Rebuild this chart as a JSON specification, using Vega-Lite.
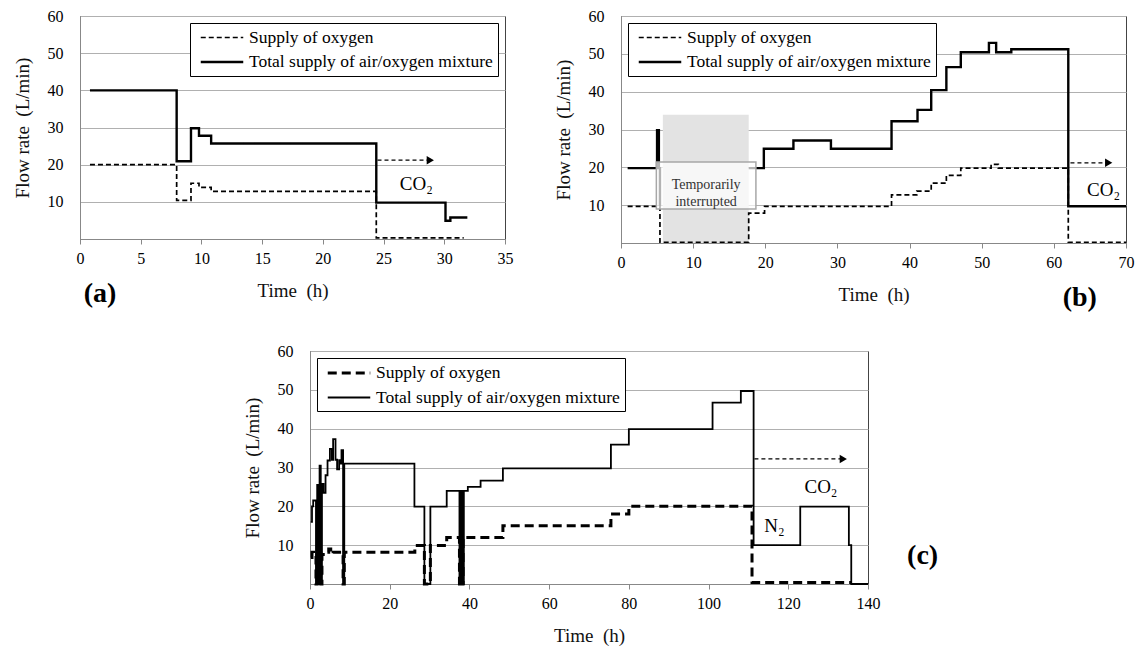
{
  "$schema": "https://vega.github.io/schema/vega-lite/v6.json",
  "padding": {"left": 12, "top": 7, "right": 0, "bottom": 0},
  "background": "white",
  "config": {
    "font": "Liberation Serif",
    "view": {"stroke": "#444", "strokeWidth": 1},
    "style": {"guide-label": {"font": "Liberation Serif"}, "guide-title": {"font": "Liberation Serif"}},
    "axis": {
      "labelFont": "Liberation Serif", "titleFont": "Liberation Serif",
      "labelFontSize": 16, "titleFontSize": 19, "titleFontWeight": "normal",
      "labelColor": "#000", "titleColor": "#111",
      "domainColor": "#888", "tickColor": "#888", "gridColor": "#b0b0b0"
    },
    "axisX": {"grid": false, "tickSize": 5, "labelPadding": 6, "titlePadding": 15, "labelFlush": false},
    "axisY": {"grid": true, "ticks": false, "labelPadding": 17, "titlePadding": 15},
    "legend": {
      "labelFont": "Liberation Serif", "labelFontSize": 17.5, "labelColor": "#000",
      "symbolType": "M-0.5,0H4.5", "symbolStrokeColor": "#000", "symbolFillColor": "transparent", "symbolSize": 289,
      "strokeColor": "#000", "fillColor": "#fff", "padding": 5, "rowPadding": 6,
      "offset": 7, "labelOffset": 34, "labelLimit": 400
    }
  },
  "datasets": {
    "a_lines": [
      {"t": 0.82, "v": 40, "s": "total", "g": "T1"},
      {"t": 7.96, "v": 20.9, "s": "total", "g": "T1"},
      {"t": 9.14, "v": 29.8, "s": "total", "g": "T1"},
      {"t": 9.8, "v": 27.8, "s": "total", "g": "T1"},
      {"t": 10.8, "v": 25.7, "s": "total", "g": "T1"},
      {"t": 24.4, "v": 9.8, "s": "total", "g": "T1"},
      {"t": 30.1, "v": 4.9, "s": "total", "g": "T1"},
      {"t": 30.5, "v": 5.8, "s": "total", "g": "T1"},
      {"t": 31.9, "v": 5.8, "s": "total", "g": "T1"},
      {"t": 0.82, "v": 20, "s": "oxygen", "g": "O1"},
      {"t": 7.96, "v": 10.4, "s": "oxygen", "g": "O1"},
      {"t": 9.14, "v": 15, "s": "oxygen", "g": "O1"},
      {"t": 9.8, "v": 13.9, "s": "oxygen", "g": "O1"},
      {"t": 10.8, "v": 12.8, "s": "oxygen", "g": "O1"},
      {"t": 24.4, "v": 0.3, "s": "oxygen", "g": "O1"},
      {"t": 31.6, "v": 0.3, "s": "oxygen", "g": "O1"}
    ],
    "b_lines": [
      {"t": 0.92, "v": 19.8, "s": "total", "g": "T1"},
      {"t": 5.0, "v": 29.8, "s": "total", "g": "T1"},
      {"t": 5.25, "v": 19.8, "s": "total", "g": "T1"},
      {"t": 5.4, "v": 9.7, "s": "total", "g": "T1"},
      {"t": 17.7, "v": 19.8, "s": "total", "g": "T2"},
      {"t": 19.8, "v": 24.9, "s": "total", "g": "T2"},
      {"t": 23.9, "v": 27.1, "s": "total", "g": "T2"},
      {"t": 29.1, "v": 24.9, "s": "total", "g": "T2"},
      {"t": 37.5, "v": 32.2, "s": "total", "g": "T2"},
      {"t": 41.1, "v": 35.2, "s": "total", "g": "T2"},
      {"t": 43.0, "v": 40.4, "s": "total", "g": "T2"},
      {"t": 45.1, "v": 46.5, "s": "total", "g": "T2"},
      {"t": 47.1, "v": 50.4, "s": "total", "g": "T2"},
      {"t": 51.0, "v": 52.9, "s": "total", "g": "T2"},
      {"t": 52.0, "v": 50.4, "s": "total", "g": "T2"},
      {"t": 54.1, "v": 51.2, "s": "total", "g": "T2"},
      {"t": 62.0, "v": 9.7, "s": "total", "g": "T2"},
      {"t": 70, "v": 9.7, "s": "total", "g": "T2"},
      {"t": 0.92, "v": 9.7, "s": "oxygen", "g": "O1"},
      {"t": 5.4, "v": 0.2, "s": "oxygen", "g": "O1"},
      {"t": 17.7, "v": 7.9, "s": "oxygen", "g": "O1"},
      {"t": 19.9, "v": 9.7, "s": "oxygen", "g": "O1"},
      {"t": 37.5, "v": 12.7, "s": "oxygen", "g": "O1"},
      {"t": 41.0, "v": 13.7, "s": "oxygen", "g": "O1"},
      {"t": 43.0, "v": 15.8, "s": "oxygen", "g": "O1"},
      {"t": 45.1, "v": 17.9, "s": "oxygen", "g": "O1"},
      {"t": 47.1, "v": 19.8, "s": "oxygen", "g": "O1"},
      {"t": 51.3, "v": 20.8, "s": "oxygen", "g": "O1"},
      {"t": 52.3, "v": 19.8, "s": "oxygen", "g": "O1"},
      {"t": 62.0, "v": 0.2, "s": "oxygen", "g": "O1"},
      {"t": 70, "v": 0.2, "s": "oxygen", "g": "O1"}
    ],
    "c_lines": [
      {"t": 0.2, "v": 16, "s": "total", "g": "T1"},
      {"t": 0.5, "v": 20, "s": "total", "g": "T1"},
      {"t": 0.8, "v": 21.5, "s": "total", "g": "T1"},
      {"t": 1.5, "v": 0, "s": "total", "g": "T1"},
      {"t": 1.8, "v": 25.5, "s": "total", "g": "T1"},
      {"t": 2.1, "v": 0, "s": "total", "g": "T1"},
      {"t": 2.4, "v": 30.5, "s": "total", "g": "T1"},
      {"t": 2.7, "v": 0, "s": "total", "g": "T1"},
      {"t": 3.0, "v": 25.8, "s": "total", "g": "T1"},
      {"t": 3.4, "v": 23.5, "s": "total", "g": "T1"},
      {"t": 3.9, "v": 28, "s": "total", "g": "T1"},
      {"t": 4.4, "v": 31.8, "s": "total", "g": "T1"},
      {"t": 5.0, "v": 34.8, "s": "total", "g": "T1"},
      {"t": 5.5, "v": 32, "s": "total", "g": "T1"},
      {"t": 5.8, "v": 37.3, "s": "total", "g": "T1"},
      {"t": 6.4, "v": 32, "s": "total", "g": "T1"},
      {"t": 6.8, "v": 29.5, "s": "total", "g": "T1"},
      {"t": 7.3, "v": 31.9, "s": "total", "g": "T1"},
      {"t": 7.7, "v": 31, "s": "total", "g": "T1"},
      {"t": 7.9, "v": 34.5, "s": "total", "g": "T1"},
      {"t": 8.3, "v": 0, "s": "total", "g": "T1"},
      {"t": 8.6, "v": 31, "s": "total", "g": "T1"},
      {"t": 26.2, "v": 19.9, "s": "total", "g": "T1"},
      {"t": 28.7, "v": 0, "s": "total", "g": "T1"},
      {"t": 30.2, "v": 19.9, "s": "total", "g": "T1"},
      {"t": 34.3, "v": 24, "s": "total", "g": "T1"},
      {"t": 37.5, "v": 0, "s": "total", "g": "T1"},
      {"t": 37.7, "v": 24, "s": "total", "g": "T1"},
      {"t": 37.9, "v": 0, "s": "total", "g": "T1"},
      {"t": 38.1, "v": 24, "s": "total", "g": "T1"},
      {"t": 38.3, "v": 0, "s": "total", "g": "T1"},
      {"t": 38.6, "v": 24, "s": "total", "g": "T1"},
      {"t": 39.6, "v": 25, "s": "total", "g": "T1"},
      {"t": 42.8, "v": 26.6, "s": "total", "g": "T1"},
      {"t": 48.4, "v": 29.8, "s": "total", "g": "T1"},
      {"t": 75.5, "v": 35.9, "s": "total", "g": "T1"},
      {"t": 80.0, "v": 39.9, "s": "total", "g": "T1"},
      {"t": 101.0, "v": 46.7, "s": "total", "g": "T1"},
      {"t": 108.1, "v": 49.7, "s": "total", "g": "T1"},
      {"t": 111.3, "v": 10, "s": "total", "g": "T1"},
      {"t": 123.0, "v": 19.9, "s": "total", "g": "T1"},
      {"t": 135.2, "v": 10, "s": "total", "g": "T1"},
      {"t": 135.8, "v": 0, "s": "total", "g": "T1"},
      {"t": 140, "v": 0, "s": "total", "g": "T1"},
      {"t": 0.2, "v": 6.8, "s": "oxygen", "g": "O1"},
      {"t": 0.5, "v": 8.2, "s": "oxygen", "g": "O1"},
      {"t": 0.9, "v": 7.2, "s": "oxygen", "g": "O1"},
      {"t": 1.5, "v": 0, "s": "oxygen", "g": "O1"},
      {"t": 1.8, "v": 8, "s": "oxygen", "g": "O1"},
      {"t": 2.1, "v": 0, "s": "oxygen", "g": "O1"},
      {"t": 2.4, "v": 8, "s": "oxygen", "g": "O1"},
      {"t": 2.7, "v": 0, "s": "oxygen", "g": "O1"},
      {"t": 3.0, "v": 7.6, "s": "oxygen", "g": "O1"},
      {"t": 4.0, "v": 8.2, "s": "oxygen", "g": "O1"},
      {"t": 4.7, "v": 9, "s": "oxygen", "g": "O1"},
      {"t": 5.2, "v": 7.8, "s": "oxygen", "g": "O1"},
      {"t": 5.8, "v": 8.2, "s": "oxygen", "g": "O1"},
      {"t": 8.3, "v": 0, "s": "oxygen", "g": "O1"},
      {"t": 8.6, "v": 8.2, "s": "oxygen", "g": "O1"},
      {"t": 26.3, "v": 9.9, "s": "oxygen", "g": "O1"},
      {"t": 28.7, "v": 0, "s": "oxygen", "g": "O1"},
      {"t": 30.2, "v": 9.9, "s": "oxygen", "g": "O1"},
      {"t": 34.3, "v": 12, "s": "oxygen", "g": "O1"},
      {"t": 37.5, "v": 0, "s": "oxygen", "g": "O1"},
      {"t": 37.8, "v": 12, "s": "oxygen", "g": "O1"},
      {"t": 38.1, "v": 0, "s": "oxygen", "g": "O1"},
      {"t": 38.4, "v": 12, "s": "oxygen", "g": "O1"},
      {"t": 48.4, "v": 15, "s": "oxygen", "g": "O1"},
      {"t": 75.5, "v": 18, "s": "oxygen", "g": "O1"},
      {"t": 80.0, "v": 20, "s": "oxygen", "g": "O1"},
      {"t": 110.9, "v": 0.4, "s": "oxygen", "g": "O1"},
      {"t": 135.8, "v": 0.4, "s": "oxygen", "g": "O1"}
    ]
  },
  "spacing": 29,
  "resolve": {"scale": {"strokeDash": "independent", "strokeWidth": "independent"}},
  "vconcat": [
    {
      "spacing": 39,
      "resolve": {"scale": {"strokeDash": "independent", "strokeWidth": "independent"}},
      "hconcat": [
        {
          "width": 425, "height": 223,
          "encoding": {
            "x": {"field": "t", "type": "quantitative", "scale": {"domain": [0, 35], "nice": false, "zero": false}, "axis": {"title": "Time\u00a0 (h)", "values": [0, 5, 10, 15, 20, 25, 30, 35], "labelFont": "Liberation Serif", "titleFont": "Liberation Serif"}},
            "y": {"field": "v", "type": "quantitative", "scale": {"domain": [0, 60], "nice": false}, "axis": {"title": "Flow rate\u00a0 (L/min)", "values": [10, 20, 30, 40, 50, 60], "labelFont": "Liberation Serif", "titleFont": "Liberation Serif"}}
          },
          "layer": [
            {
              "data": {"name": "a_lines"},
              "mark": {"type": "line", "interpolate": "step-after", "color": "#000"},
              "encoding": {
                "detail": {"field": "g"},
                "strokeDash": {"field": "s", "type": "nominal", "scale": {"domain": ["oxygen", "total"], "range": [[5, 3], [1, 0]]}, "legend": {"title": null, "orient": "top-right", "labelFont": "Liberation Serif", "labelExpr": "datum.value == 'oxygen' ? 'Supply of oxygen' : 'Total supply of air/oxygen mixture'"}},
                "strokeWidth": {"field": "s", "type": "nominal", "scale": {"type": "ordinal", "domain": ["oxygen", "total"], "range": [1.7, 2.4]}, "legend": {"title": null, "orient": "top-right", "labelFont": "Liberation Serif", "labelExpr": "datum.value == 'oxygen' ? 'Supply of oxygen' : 'Total supply of air/oxygen mixture'"}}
              }
            },
            {
              "data": {"values": [{"t": 24.5, "t2": 28.7, "v": 21.2}]},
              "mark": {"type": "rule", "color": "#000", "strokeDash": [4, 3], "strokeWidth": 1.2},
              "encoding": {"x2": {"field": "t2"}}
            },
            {
              "data": {"values": [{"t": 28.85, "v": 21.2}]},
              "mark": {"type": "point", "shape": "triangle-right", "filled": true, "color": "#000", "size": 70, "opacity": 1}
            },
            {
              "data": {"values": [{"t": 27.7, "v": 14.7, "label": "CO₂"}]},
              "mark": {"type": "text", "fontSize": 19, "font": "Liberation Serif", "color": "#000"},
              "encoding": {"text": {"field": "label"}}
            },
            {
              "data": {"values": [{"t": 1.65, "v": -14.8, "label": "(a)"}]},
              "mark": {"type": "text", "fontSize": 28, "fontWeight": "bold", "font": "Liberation Serif", "color": "#000"},
              "encoding": {"text": {"field": "label"}}
            }
          ]
        },
        {
          "width": 505, "height": 227,
          "encoding": {
            "x": {"field": "t", "type": "quantitative", "scale": {"domain": [0, 70], "nice": false, "zero": false}, "axis": {"title": "Time\u00a0 (h)", "values": [0, 10, 20, 30, 40, 50, 60, 70], "labelFont": "Liberation Serif", "titleFont": "Liberation Serif"}},
            "y": {"field": "v", "type": "quantitative", "scale": {"domain": [0, 60], "nice": false}, "axis": {"title": "Flow rate\u00a0 (L/min)", "values": [10, 20, 30, 40, 50, 60], "labelFont": "Liberation Serif", "titleFont": "Liberation Serif"}}
          },
          "layer": [
            {
              "data": {"values": [{"t": 5.8, "t2": 17.7, "v": 0, "v2": 33.9}]},
              "mark": {"type": "rect", "fill": "#e3e3e3", "opacity": 1},
              "encoding": {"x2": {"field": "t2"}, "y2": {"field": "v2"}}
            },
            {
              "data": {"name": "b_lines"},
              "mark": {"type": "line", "interpolate": "step-after", "color": "#000"},
              "encoding": {
                "detail": {"field": "g"},
                "strokeDash": {"field": "s", "type": "nominal", "scale": {"domain": ["oxygen", "total"], "range": [[5, 3], [1, 0]]}, "legend": {"title": null, "orient": "top-left", "labelFont": "Liberation Serif", "labelExpr": "datum.value == 'oxygen' ? 'Supply of oxygen' : 'Total supply of air/oxygen mixture'"}},
                "strokeWidth": {"field": "s", "type": "nominal", "scale": {"type": "ordinal", "domain": ["oxygen", "total"], "range": [1.7, 2.4]}, "legend": {"title": null, "orient": "top-left", "labelFont": "Liberation Serif", "labelExpr": "datum.value == 'oxygen' ? 'Supply of oxygen' : 'Total supply of air/oxygen mixture'"}}
              }
            },
            {
              "data": {"values": [{"t": 4.9, "t2": 18.7, "v": 9.0, "v2": 21.4}]},
              "mark": {"type": "rect", "fill": "#ffffff", "fillOpacity": 0.7, "stroke": "#a8a8a8", "strokeWidth": 1.5},
              "encoding": {"x2": {"field": "t2"}, "y2": {"field": "v2"}}
            },
            {
              "data": {"values": [{"t": 11.8, "v": 15.2, "label": "Temporarily\ninterrupted"}]},
              "mark": {"type": "text", "fontSize": 14, "font": "Liberation Serif", "color": "#333", "lineBreak": "\n", "lineHeight": 17},
              "encoding": {"text": {"field": "label"}}
            },
            {
              "data": {"values": [{"t": 62.3, "t2": 67.3, "v": 21.2}]},
              "mark": {"type": "rule", "color": "#000", "strokeDash": [4, 3], "strokeWidth": 1.2},
              "encoding": {"x2": {"field": "t2"}}
            },
            {
              "data": {"values": [{"t": 67.6, "v": 21.2}]},
              "mark": {"type": "point", "shape": "triangle-right", "filled": true, "color": "#000", "size": 70, "opacity": 1}
            },
            {
              "data": {"values": [{"t": 66.9, "v": 14.0, "label": "CO₂"}]},
              "mark": {"type": "text", "fontSize": 19, "font": "Liberation Serif", "color": "#000"},
              "encoding": {"text": {"field": "label"}}
            },
            {
              "data": {"values": [{"t": 63.6, "v": -14.5, "label": "(b)"}]},
              "mark": {"type": "text", "fontSize": 28, "fontWeight": "bold", "font": "Liberation Serif", "color": "#000"},
              "encoding": {"text": {"field": "label"}}
            }
          ]
        }
      ]
    },
    {
      "spacing": 0,
      "resolve": {"scale": {"strokeDash": "independent", "strokeWidth": "independent"}},
      "hconcat": [
        {
          "width": 162, "height": 20,
          "view": {"stroke": null},
          "data": {"values": []},
          "mark": {"type": "point", "opacity": 0},
          "encoding": {}
        },
        {
          "width": 558, "height": 233,
          "encoding": {
            "x": {"field": "t", "type": "quantitative", "scale": {"domain": [0, 140], "nice": false, "zero": false}, "axis": {"title": "Time\u00a0 (h)", "values": [0, 20, 40, 60, 80, 100, 120, 140], "labelFont": "Liberation Serif", "titleFont": "Liberation Serif"}},
            "y": {"field": "v", "type": "quantitative", "scale": {"domain": [0, 60], "nice": false}, "axis": {"title": "Flow rate\u00a0 (L/min)", "values": [10, 20, 30, 40, 50, 60], "labelFont": "Liberation Serif", "titleFont": "Liberation Serif"}}
          },
          "layer": [
            {
              "data": {"name": "c_lines"},
              "mark": {"type": "line", "interpolate": "step-after", "color": "#000"},
              "encoding": {
                "detail": {"field": "g"},
                "strokeDash": {"field": "s", "type": "nominal", "scale": {"domain": ["oxygen", "total"], "range": [[9, 5], [1, 0]]}, "legend": {"title": null, "orient": "top-left", "labelFont": "Liberation Serif", "labelExpr": "datum.value == 'oxygen' ? 'Supply of oxygen' : 'Total supply of air/oxygen mixture'"}},
                "strokeWidth": {"field": "s", "type": "nominal", "scale": {"type": "ordinal", "domain": ["oxygen", "total"], "range": [3, 1.8]}, "legend": {"title": null, "orient": "top-left", "labelFont": "Liberation Serif", "labelExpr": "datum.value == 'oxygen' ? 'Supply of oxygen' : 'Total supply of air/oxygen mixture'"}}
              }
            },
            {
              "data": {"values": [{"t": 111.5, "t2": 133.3, "v": 32.2}]},
              "mark": {"type": "rule", "color": "#000", "strokeDash": [4, 3], "strokeWidth": 1.2},
              "encoding": {"x2": {"field": "t2"}}
            },
            {
              "data": {"values": [{"t": 133.8, "v": 32.2}]},
              "mark": {"type": "point", "shape": "triangle-right", "filled": true, "color": "#000", "size": 70, "opacity": 1}
            },
            {
              "data": {"values": [{"t": 128.2, "v": 25.1, "label": "CO₂"}, {"t": 116.5, "v": 15.0, "label": "N₂"}]},
              "mark": {"type": "text", "fontSize": 19, "font": "Liberation Serif", "color": "#000"},
              "encoding": {"text": {"field": "label"}}
            },
            {
              "data": {"values": [{"t": 153.7, "v": 7.3, "label": "(c)"}]},
              "mark": {"type": "text", "fontSize": 28, "fontWeight": "bold", "font": "Liberation Serif", "color": "#000"},
              "encoding": {"text": {"field": "label"}}
            }
          ]
        }
      ]
    }
  ]
}
